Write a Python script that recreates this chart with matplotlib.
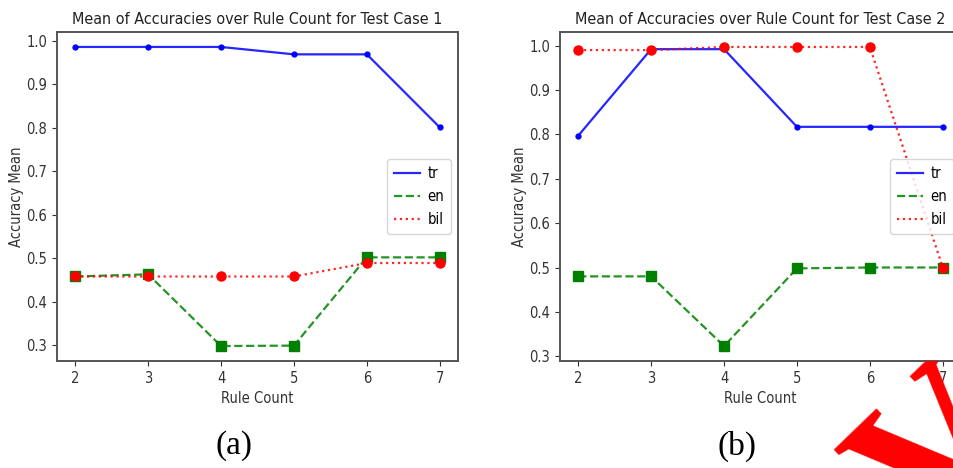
import matplotlib
matplotlib.use("Agg")
import matplotlib.pyplot as plt
from matplotlib.transforms import Bbox

plt.rcParams["font.family"] = ["DejaVu Sans"]
plt.rcParams["font.stretch"] = "condensed"

rule_counts = [2, 3, 4, 5, 6, 7]

case1_tr = [0.986, 0.986, 0.986, 0.969, 0.969, 0.801]
case1_en = [0.458, 0.463, 0.298, 0.299, 0.502, 0.502]
case1_bil = [0.458, 0.458, 0.458, 0.458, 0.489, 0.489]

case2_tr = [0.797, 0.992, 0.992, 0.817, 0.817, 0.817]
case2_en = [0.480, 0.480, 0.323, 0.498, 0.500, 0.500]
case2_bil = [0.990, 0.990, 0.997, 0.997, 0.997, 0.500]

cases = [
    ("Mean of Accuracies over Rule Count for Test Case 1", case1_tr, case1_en, case1_bil, "(a)"),
    ("Mean of Accuracies over Rule Count for Test Case 2", case2_tr, case2_en, case2_bil, "(b)"),
]

# (colour, line style, marker, marker size, label)
series_styles = [
    ("blue", "-", ".", 7, "tr"),
    ("green", "--", "s", 6.5, "en"),
    ("red", ":", "o", 6.5, "bil"),
]

fig = plt.figure(figsize=(9.54, 4.68), dpi=100)
fig.patch.set_facecolor("white")

axes_lefts = [57 / 954, 560 / 954]
axes_width = 401 / 954
for left, (title, tr, en, bil, tag) in zip(axes_lefts, cases):
    ax = fig.add_axes([left, 1 - 361 / 468, axes_width, 329 / 468])
    for values, (color, style, marker, size, label) in zip([tr, en, bil], series_styles):
        # line carries the legend entry, markers are drawn on top without one
        ax.plot(rule_counts, values, color=color, linestyle=style, linewidth=1.6, alpha=0.85, label=label)
        ax.plot(rule_counts, values, color=color, linestyle="none", marker=marker, markersize=size)

    ax.set_title(title, fontsize=11.5, color="#222222")
    ax.set_xlabel("Rule Count", fontsize=10.5, color="#333333")
    ax.set_ylabel("Accuracy Mean", fontsize=10.5, color="#333333", labelpad=2)
    ax.set_xticks(rule_counts)
    ax.tick_params(labelsize=10.5, colors="#333333")
    for spine in ax.spines.values():
        spine.set_color("#555555")
        spine.set_linewidth(1.4)
    ax.legend(loc="center right", fontsize=10.5, handlelength=1.8, handletextpad=0.5,
              borderpad=0.45, labelspacing=0.55)

    fig.text(left + 0.5 * axes_width - 23 / 954, 1 - 446 / 468, tag, ha="center", va="center",
             fontsize=24, family="Liberation Serif", fontstretch="normal")

# red watermark glyph in the lower right corner, only visible below the axes
mark = fig.text(827, 24, "V", transform=None, ha="left", va="top", rotation=44,
                rotation_mode="anchor", fontsize=150, family="Liberation Serif",
                fontweight="bold", fontstretch="normal", color="red")
mark.set_clip_box(Bbox.from_extents(0, 0, 954, 107))
mark.set_clip_on(True)

fig.savefig("out.png", dpi=100)
